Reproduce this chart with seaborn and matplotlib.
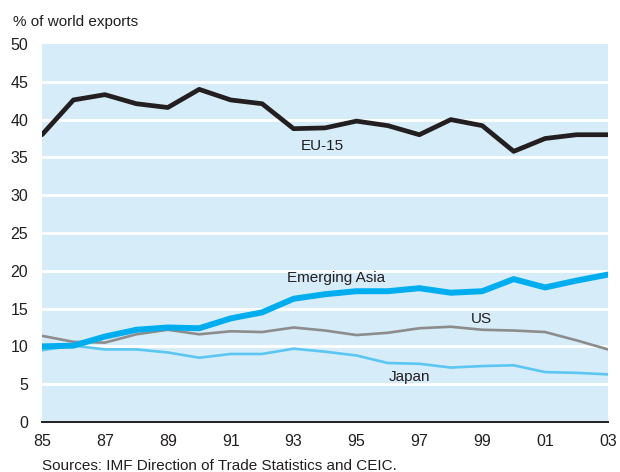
import matplotlib
matplotlib.use("Agg")
import matplotlib.pyplot as plt
import seaborn as sns
import pandas as pd

years = list(range(1985, 2004))
tick_years = list(range(1985, 2004, 2))
tick_labels = ["85", "87", "89", "91", "93", "95", "97", "99", "01", "03"]

eu15 = [38.0, 42.6, 43.3, 42.1, 41.6, 44.0, 42.6, 42.1, 38.8, 38.9,
        39.8, 39.2, 38.0, 40.0, 39.2, 35.8, 37.5, 38.0, 38.0]
emerging_asia = [10.0, 10.1, 11.3, 12.2, 12.5, 12.4, 13.7, 14.5, 16.3, 16.9,
                 17.3, 17.3, 17.7, 17.1, 17.3, 18.9, 17.8, 18.7, 19.5]
us = [11.4, 10.6, 10.5, 11.6, 12.2, 11.6, 12.0, 11.9, 12.5, 12.1,
      11.5, 11.8, 12.4, 12.6, 12.2, 12.1, 11.9, 10.8, 9.6]
japan = [9.5, 10.1, 9.6, 9.6, 9.2, 8.5, 9.0, 9.0, 9.7, 9.3,
         8.8, 7.8, 7.7, 7.2, 7.4, 7.5, 6.6, 6.5, 6.3]

df = pd.DataFrame({"year": years, "EU-15": eu15, "Emerging Asia": emerging_asia,
                   "US": us, "Japan": japan})

sns.set_theme(style="white")
plt.rcParams["font.family"] = ["Liberation Sans", "DejaVu Sans"]

fig = plt.figure(figsize=(6.2, 4.72), dpi=100)
ax = fig.add_axes([42 / 620, 1 - 422 / 472, 566 / 620, 378 / 472])
ax.set_facecolor("#D6ECF9")

# white horizontal rules inside the panel
for v in range(5, 50, 5):
    ax.axhline(v, color="white", linewidth=2.0, zorder=1)

styles = [
    ("Japan", "#5CC6F2", 1.9),
    ("US", "#8C8C8C", 1.9),
    ("Emerging Asia", "#00AEEF", 4.3),
    ("EU-15", "#231F20", 3.4),
]
for name, color, lw in styles:
    sns.lineplot(data=df, x="year", y=name, color=color, linewidth=lw,
                 ax=ax, zorder=3)

ax.set_xlim(1985, 2003)
ax.set_ylim(0, 50)
ax.set_xticks(tick_years)
ax.set_xticklabels(tick_labels)
ax.set_yticks(range(0, 51, 5))
ax.set_xlabel("")
ax.set_ylabel("")

for side in ["top", "right", "left"]:
    ax.spines[side].set_visible(False)
ax.spines["bottom"].set_color("#231F20")
ax.spines["bottom"].set_linewidth(1.4)

ax.tick_params(axis="x", direction="in", length=11, width=1.2,
               color="#231F20", labelsize=11.5, pad=9, labelcolor="#231F20")
ax.tick_params(axis="y", length=0, labelsize=11.5, pad=10, labelcolor="#231F20")

# series labels
label_kw = dict(fontsize=11, color="#231F20", zorder=4)
ax.text(1993.9, 36.5, "EU-15", ha="center", va="center", **label_kw)
ax.text(1994.35, 19.0, "Emerging Asia", ha="center", va="center", **label_kw)
ax.text(1998.96, 13.6, "US", ha="center", va="center", **label_kw)
ax.text(1996.7, 6.0, "Japan", ha="center", va="center", **label_kw)

fig.text(13 / 620, 1 - 22 / 472, "% of world exports", fontsize=11,
         color="#231F20", ha="left", va="center")
fig.text(42 / 620, 1 - 466 / 472, "Sources: IMF Direction of Trade Statistics and CEIC.",
         fontsize=11, color="#231F20", ha="left", va="center")

fig.savefig("out.png", dpi=100)
